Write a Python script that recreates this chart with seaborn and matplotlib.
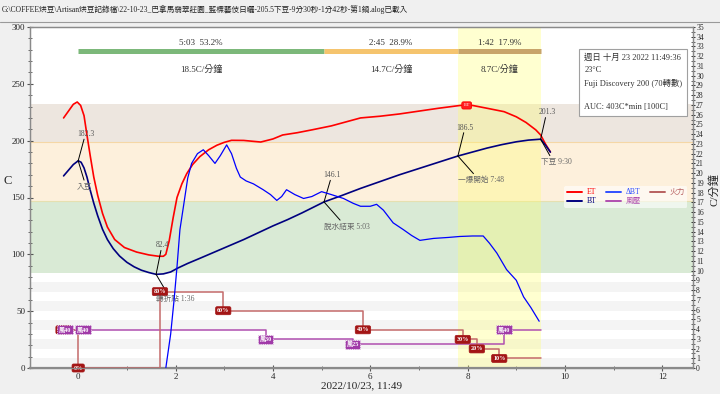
import matplotlib
matplotlib.use("Agg")
import matplotlib.pyplot as plt
from matplotlib.lines import Line2D
from matplotlib.ticker import MultipleLocator
import seaborn as sns

# ---- roast curves, time in minutes from charge ----
et_time = [-0.30, -0.20, -0.10, -0.02, 0.05, 0.12, 0.18, 0.25, 0.32, 0.40, 0.50, 0.60, 0.75, 0.95,
           1.20, 1.45, 1.65, 1.75, 1.80, 1.87, 1.95, 2.03, 2.13, 2.23, 2.35, 2.50, 2.68, 2.85, 3.00,
           3.15, 3.40, 3.75, 4.00, 4.20, 4.50, 4.80, 5.20, 5.80, 6.20, 6.60, 7.00, 7.40, 7.85, 8.10,
           8.40, 8.75, 9.00, 9.20, 9.40, 9.50, 9.60, 9.70]
et_temp = [220, 226, 232, 234, 231, 222, 205, 186, 168, 152, 136, 124, 113, 106,
           102, 99.5, 98.3, 98.3, 100, 112, 132, 150, 162, 171, 179, 186, 192, 196, 198.5,
           200.3, 200.2, 198.8, 201.5, 205, 207, 209.5, 213, 220, 221.5, 223.5, 226, 228.5, 231, 231,
           228.5, 225.5, 221, 216, 209.5, 205, 197, 190]

bt_time = [-0.30, -0.20, -0.10, 0.00, 0.06, 0.12, 0.18, 0.25, 0.32, 0.40, 0.50, 0.60, 0.72, 0.85,
           1.00, 1.15, 1.30, 1.45, 1.60, 1.75, 1.90, 2.05, 2.25, 2.50, 2.80, 3.10, 3.40, 3.70, 4.00,
           4.30, 4.60, 5.05, 5.40, 5.80, 6.20, 6.60, 7.00, 7.40, 7.80, 8.10, 8.40, 8.70, 9.00, 9.25,
           9.50, 9.60, 9.70]
bt_temp = [169, 174, 179, 182.3, 181, 176, 168, 156, 145, 134, 122, 113, 105, 98.5,
           93, 89, 86, 84, 82.4, 82.8, 84.5, 88, 92, 96.5, 102, 107.5, 113, 119, 125,
           130.5, 136.5, 146.1, 151.5, 158, 164, 170, 175.5, 181, 186.5, 190, 193.5, 196.5, 199, 200.5,
           201.3, 196, 190]

ror_time = [1.80, 1.90, 1.97, 2.03, 2.09, 2.16, 2.25, 2.33, 2.45, 2.57, 2.68, 2.81, 2.92, 3.05,
            3.15, 3.25, 3.33, 3.45, 3.60, 3.80, 3.95, 4.08, 4.18, 4.28, 4.45, 4.63, 4.80, 5.00,
            5.20, 5.45, 5.65, 5.80, 6.00, 6.13, 6.27, 6.47, 6.68, 6.85, 7.02, 7.30, 7.60, 7.84,
            8.10, 8.32, 8.45, 8.60, 8.80, 9.00, 9.15, 9.30, 9.47]
ror_val = [0.0, 3.5, 7.0, 10.4, 14.2, 16.5, 19.5, 21.0, 22.0, 22.4, 21.8, 21.0, 21.8, 22.9,
           22.0, 20.5, 19.6, 19.2, 18.9, 18.3, 17.8, 17.2, 17.6, 18.3, 17.8, 17.4, 17.6, 18.1,
           17.8, 17.4, 16.9, 16.6, 16.6, 16.8, 16.2, 14.9, 14.2, 13.6, 13.1, 13.3, 13.4, 13.5,
           13.55, 13.55, 12.8, 11.8, 10.1, 9.0, 7.3, 6.2, 4.8]

# ---- events ----
burner_time = [-0.30, 0.00, 1.68, 2.98, 5.85, 7.90, 8.19, 8.65]
burner_pct = [40, 0, 80, 60, 40, 30, 20, 10]
air_time = [-0.27, 0.10, 3.85, 5.64, 8.75]
air_pct = [40, 40, 30, 25, 40]
drop_time = 9.5
event_scale = 0.84  # event % mapped onto the temperature axis

# ---- landmarks ----
mark_time = [0.0, 1.6, 5.05, 7.8, 9.5]
mark_temp = [182.3, 82.4, 146.1, 186.5, 201.3]
mark_name = ["入豆", "轉折點 1:36", "脫水結束 5:03", "一爆開始 7:48", "下豆 9:30"]
et_max_time, et_max_temp = 7.98, 231

phase_edges = [0.0, 5.05, 7.8, 9.5]
phase_time_labels = ["5:03  53.2%", "2:45  28.9%", "1:42  17.9%"]
phase_rate_labels = ["18.5C/分鐘", "14.7C/分鐘", "8.7C/分鐘"]
band_edges = [84, 147, 198.5, 232]

title = ("G:\\COFFEE烘豆\\Artisan烘豆記錄檔\\22-10-23_巴拿馬翡翠莊園_藍標藝伎日曬-205.5下豆"
         "-9分30秒-1分42秒-第1鍋.alog已載入")
info = "週日 十月 23 2022 11:49:36\n23°C\nFuji Discovery 200 (70轉數)\n\nAUC: 403C*min [100C]"

sns.set_style("white")
plt.rcParams['font.family'] = ['Liberation Serif', 'Noto Sans CJK TC']

fig = plt.figure(figsize=(7.2, 3.94), dpi=100, facecolor='#f0f0f0')
ax = fig.add_axes([30 / 720, 1 - 368 / 394, 663 / 720, 341 / 394])
ax2 = ax.twinx()

# background bands
for i in range(0, 10, 2):
    ax.axhspan(i * 8.4, (i + 1) * 8.4, color='#f4f4f4', lw=0, zorder=0)
band_colors = ['#d9ead5', '#fdf0dc', '#ede6df']
for lo, hi, c in zip(band_edges[:-1], band_edges[1:], band_colors):
    ax.axhspan(lo, hi, color=c, lw=0, zorder=0)
ax.axhline(band_edges[1], color='#e6e0b0', lw=0.8, zorder=0.5)
ax.axhline(band_edges[2], color='#f5d7a6', lw=0.8, zorder=0.5)
ax.axvspan(phase_edges[2], phase_edges[3], color='#ffff66', alpha=0.3, lw=0, zorder=0.6)

# phase bar on top
bar_colors = ['#7cb87a', '#f5c46e', '#c8a46a']
for k in range(3):
    ax.plot([phase_edges[k], phase_edges[k + 1]], [279, 279], color=bar_colors[k], lw=3.6,
            solid_capstyle='butt', zorder=2)
    mid = (phase_edges[k] + phase_edges[k + 1]) / 2
    ax.text(mid, 286, phase_time_labels[k], ha='center', va='center', fontsize=6.5, color='#333333')
    ax.text(mid, 263, phase_rate_labels[k], ha='center', va='center', fontsize=6.5, color='#333333')

# event step lines
burner_x = burner_time + [drop_time]
burner_y = [p * event_scale for p in burner_pct + [burner_pct[-1]]]
air_x = air_time + [drop_time]
air_y = [p * event_scale for p in air_pct + [air_pct[-1]]]
sns.lineplot(x=air_x, y=air_y, ax=ax, color='#b04fb0', lw=1.1, drawstyle='steps-post', zorder=3)
sns.lineplot(x=burner_x, y=burner_y, ax=ax, color='#c46a6a', lw=1.1, drawstyle='steps-post', zorder=3)
for t, p in zip(burner_time, burner_pct):
    ax.text(t, p * event_scale, f"{p}%", ha='center', va='center', fontsize=4.4, color='white',
            fontweight='bold', zorder=5, clip_on=False,
            bbox=dict(boxstyle='round,pad=0.25', fc='#a31515', ec='#a31515', lw=0.5))
for t, p in zip(air_time, air_pct):
    ax.text(t, p * event_scale, f"風{p}", ha='center', va='center', fontsize=4.4, color='white',
            fontweight='bold', zorder=5,
            bbox=dict(boxstyle='square,pad=0.25', fc='#a03aa8', ec='white', lw=0.6, ls=':'))

# temperature curves
sns.lineplot(x=et_time, y=et_temp, ax=ax, color='#ff0000', lw=1.2, sort=False, zorder=4)
sns.lineplot(x=bt_time, y=bt_temp, ax=ax, color='#00007f', lw=1.2, sort=False, zorder=4)
sns.lineplot(x=ror_time, y=ror_val, ax=ax2, color='#0000ff', lw=0.9, sort=False)

ax.text(et_max_time, et_max_temp, "ET", ha='center', va='center', fontsize=3.8, color='white',
        zorder=6, bbox=dict(boxstyle='round,pad=0.3', fc='#ff2020', ec='#ff0000', lw=0.6))

# landmark annotations
val_off = [(0.12, 19), (0.10, 21), (0.13, 19), (0.12, 20.5), (0.10, 19)]
name_off = [(0.12, -17), (0.22, -16), (0.33, -16), (0.32, -15.5), (0.19, -14.5)]
name_txt_x = [-0.02, 0.0, 0.0, 0.0, 0.0]
for k in range(len(mark_time)):
    t, v = mark_time[k], mark_temp[k]
    dx, dy = val_off[k]
    ax.plot([t, t + dx], [v, v + dy], color='black', lw=0.7, zorder=4.5)
    ax.text(t + dx + 0.03, v + dy + 1, f"{v:.1f}", ha='center', va='bottom', fontsize=5.5,
            color='#555555', zorder=6)
    dx, dy = name_off[k]
    ax.plot([t, t + dx], [v, v + dy], color='black', lw=0.7, zorder=4.5)
    ax.text(t + name_txt_x[k], v + dy - 2, mark_name[k], ha='left', va='top', fontsize=5.5,
            color='#666666', zorder=6)

# info box
ax2.text(0.836, 0.922, info, transform=ax.transAxes, ha='left', va='top', fontsize=6,
         color='#333333', linespacing=1.65, zorder=10,
         bbox=dict(boxstyle='square,pad=0.6', fc='white', ec='#a0a0a0', lw=0.8))

# axes
ax.set_xlim(-0.99, 12.63)
ax.set_ylim(0, 300)
ax2.set_ylim(0, 35)
ax.xaxis.set_major_locator(MultipleLocator(2))
ax.xaxis.set_minor_locator(MultipleLocator(1))
ax.yaxis.set_major_locator(MultipleLocator(50))
ax.yaxis.set_minor_locator(MultipleLocator(10))
ax2.yaxis.set_major_locator(MultipleLocator(1))
ax2.yaxis.set_minor_locator(MultipleLocator(0.5))
ax.tick_params(axis='both', which='major', labelsize=6.5, direction='inout', length=4, width=0.8,
               color='#555555', pad=1.5, left=True, bottom=True)
ax.tick_params(axis='both', which='minor', direction='inout', length=3, width=0.6, color='#555555',
               left=True, bottom=True)
ax2.tick_params(axis='y', which='major', labelsize=5.5, direction='inout', length=3.5, width=0.7,
                color='#333333', pad=0.5)
ax2.tick_params(axis='y', which='minor', direction='inout', length=2.2, width=0.5, color='#333333')
for a in (ax, ax2):
    for s in a.spines.values():
        s.set_color('#8a8a8a')
        s.set_linewidth(0.9)
ax.spines['bottom'].set_linewidth(1.6)
ax.set_xlabel("2022/10/23, 11:49", fontsize=8, labelpad=0)
ax.set_ylabel("C", fontsize=9, rotation=0)
ax.yaxis.set_label_coords(-0.033, 0.53)
fig.text(714 / 720, 1 - 190 / 394, "C/分鐘", rotation=90, ha='center', va='center', fontsize=8)

# legend
handles = [Line2D([], [], color='#ff0000', lw=1.4), Line2D([], [], color='#00007f', lw=1.4),
           Line2D([], [], color='#3050ff', lw=1.4), Line2D([], [], color='#b04fb0', lw=1.4),
           Line2D([], [], color='#b86060', lw=1.4)]
labels = ["ET", "BT", "ΔBT", "風壓", "火力"]
leg = ax2.legend(handles, labels, ncol=3, loc='upper right', bbox_to_anchor=(0.997, 0.545),
                 fontsize=5.5, frameon=True, framealpha=0.6, edgecolor='none', facecolor='white',
                 handlelength=2.0, columnspacing=1.2, handletextpad=0.6, borderpad=0.3,
                 labelspacing=0.15)
for txt, h in zip(leg.get_texts(), handles):
    txt.set_color(h.get_color())

# window title
fig.text(0.003, 0.988, title, fontsize=5.5, ha='left', va='top', color='#222222')
fig.add_artist(Line2D([0, 1], [1 - 22 / 394] * 2, transform=fig.transFigure, color='#9a9a9a', lw=0.8))

fig.savefig("out.png", dpi=100, facecolor=fig.get_facecolor())
